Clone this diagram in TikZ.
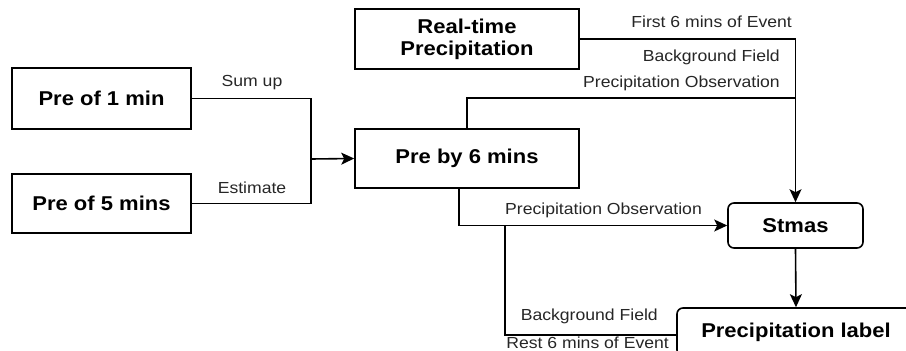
\documentclass[tikz,border=0pt]{standalone}
\usepackage{fontspec}
\setmainfont[FakeStretch=1.1]{Liberation Sans}
\usetikzlibrary{arrows.meta}
\tikzset{
  box/.style={draw, rectangle, line width=1.6pt, font=\fontsize{20}{22}\selectfont\bfseries, align=center, inner sep=0pt},
  roundbox/.style={box, rounded corners=6pt},
  link/.style={line width=1.6pt},
  arrowlink/.style={link, -{Stealth[length=13pt,width=12pt,inset=3pt]}},
  tag/.style={font=\fontsize{16}{18}\selectfont, inner sep=0pt, text=black!85}
}
\begin{document}
\begin{tikzpicture}[x=1pt,y=-1pt]
    \useasboundingbox (0,0) rectangle (906,351);
    % boxes
    \node[box, minimum width=179pt, minimum height=61pt] (P1) at (101.5,98.5){Pre of 1 min};
    \node[box, minimum width=179pt, minimum height=59pt] (P5) at (101.5,203.5){Pre of 5 mins};
    \node[box, minimum width=224pt, minimum height=60pt] (RT) at (467,39){Real-time\\Precipitation};
    \node[box, minimum width=224pt, minimum height=59pt] (P6) at (467,158.5){Pre by 6 mins};
    \node[roundbox, minimum width=135pt, minimum height=45pt] (S) at (795.5,225.5){Stmas};
    \node[roundbox, minimum width=238pt, minimum height=48pt] (L) at (796,332){Precipitation label};
    % joints
    \coordinate (J) at (311,159);
    \coordinate (C) at (796,98);
    \coordinate (B) at (505,226);
    % connectors
    \draw[link] (P1.east) -| (J);
    \draw[link] (P5.east) -| (J);
    \draw[arrowlink] (J) -- (P6.west);
    \draw[arrowlink] (RT.east) -| (S.north);
    \draw[link] (P6.north) |- (C);
    \draw[arrowlink] ([xshift=-8pt]P6.south) |- (S.west);
    \draw[link] (B) |- ([yshift=-3pt]L.west);
    \draw[arrowlink] (S.south) -- (L.north);
    % texts
    \node[tag] (T1) at (252,83){Sum up};
    \node[tag] (T2) at (252,188){Estimate};
    \node[tag, anchor=east] (T3) at (792,22){First 6 mins of Event};
    \node[tag, anchor=east] (T4) at (780,57){Background Field};
    \node[tag, anchor=east] (T5) at (780,83){Precipitation Observation};
    \node[tag, anchor=west] (T6) at (505,210){Precipitation Observation};
    \node[tag, anchor=east] (T7) at (658,316){Background Field};
    \node[tag, anchor=east] (T8) at (669,343){Rest 6 mins of Event};
\end{tikzpicture}
\end{document}
